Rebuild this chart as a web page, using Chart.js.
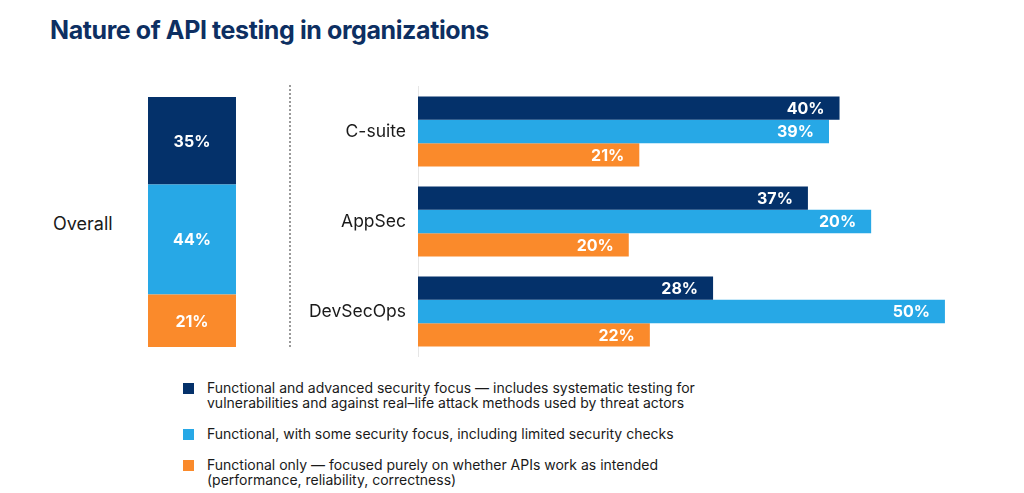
<!DOCTYPE html>
<html lang="en">
<head>
    <meta charset="UTF-8">
    <title>Nature of API testing in organizations</title>
    <script src="https://cdn.jsdelivr.net/npm/chart.js"></script>
    <style>
        body {
            margin: 0;
            width: 1024px;
            height: 493px;
            background: #fff;
            font-family: Inter, 'Noto Sans', sans-serif;
            color: #1a1a1a;
            position: relative;
            overflow: hidden;
        }
        h1 {
            position: absolute;
            left: 50px;
            top: 15px;
            margin: 0;
            font-size: 25px;
            font-weight: 700;
            color: #0d2f62;
            letter-spacing: -0.4px;
        }
        #overallBox { position: absolute; left: 114px; top: 97px; width: 156px; height: 250px; }
        #groupBox { position: absolute; left: 300px; top: 64px; width: 666px; height: 315px; }
        #overallLabel {
            position: absolute;
            left: 53px;
            top: 213px;
            font-size: 18px;
        }
        #divider {
            position: absolute;
            left: 289px;
            top: 85px;
            height: 262px;
            border-left: 2px dotted #9a9a9a;
        }
        #legend {
            position: absolute;
            left: 183px;
            top: 380px;
            font-size: 14px;
            line-height: 15px;
        }
        .item { display: flex; align-items: flex-start; margin-bottom: 16px; }
        .item span.box { width: 11px; height: 11px; margin: 3px 13px 0 0; flex: none; }
    </style>
</head>
<body>
    <h1>Nature of API testing in organizations</h1>
    <div id="overallLabel">Overall</div>
    <div id="overallBox"><canvas id="overallChart"></canvas></div>
    <div id="divider"></div>
    <div id="groupBox"><canvas id="groupChart"></canvas></div>
    <div id="legend"></div>

    <script>
        const seriesNames = [
            'Functional and advanced security focus \u2014 includes systematic testing for\nvulnerabilities and against real\u2013life attack methods used by threat actors',
            'Functional, with some security focus, including limited security checks',
            'Functional only \u2014 focused purely on whether APIs work as intended\n(performance, reliability, correctness)'
        ];
        const colors = ['#04316a', '#27a8e6', '#fa8a2b'];

        // overall split (advanced, some security, functional only)
        const overallValues = [35, 44, 21];

        const roles = ['C-suite', 'AppSec', 'DevSecOps'];
        const advancedValues = [40, 37, 28];
        const someSecurityValues = [39, 43, 50];
        const functionalValues = [21, 20, 22];
        // printed labels as they appear in the source (AppSec middle bar is labelled 20%)
        const advancedLabels = ['40%', '37%', '28%'];
        const someSecurityLabels = ['39%', '20%', '50%'];
        const functionalLabels = ['21%', '20%', '22%'];

        // legend
        const legend = document.getElementById('legend');
        seriesNames.forEach((name, i) => {
            const div = document.createElement('div');
            div.className = 'item';
            div.innerHTML = `<span class="box" style="background:${colors[i]}"></span><span>${name.replace('\n', '<br>')}</span>`;
            legend.appendChild(div);
        });

        // draws white value labels inside bars
        const barLabels = {
            id: 'barLabels',
            afterDatasetsDraw(chart) {
                const ctx = chart.ctx;
                const horizontal = chart.options.indexAxis === 'y';
                ctx.save();
                ctx.fillStyle = '#fff';
                ctx.font = 'bold 16px Inter, sans-serif';
                ctx.textBaseline = 'middle';
                chart.data.datasets.forEach((ds, di) => {
                    chart.getDatasetMeta(di).data.forEach((bar, i) => {
                        const text = ds.labels[i];
                        if (horizontal) {
                            ctx.textAlign = 'right';
                            ctx.fillText(text, bar.x - 15, bar.y + 1);
                        } else {
                            ctx.textAlign = 'center';
                            ctx.fillText(text, bar.x, (bar.y + bar.base) / 2 + 1);
                        }
                    });
                });
                ctx.restore();
            }
        };

        Chart.defaults.font.family = 'Inter, sans-serif';
        Chart.defaults.color = '#1a1a1a';

        // stacked overall bar: bottom dataset first
        const stackOrder = [2, 1, 0];
        new Chart(document.getElementById('overallChart'), {
            type: 'bar',
            data: {
                labels: ['Overall'],
                datasets: stackOrder.map(k => ({
                    data: [overallValues[k]],
                    labels: [overallValues[k] + '%'],
                    backgroundColor: colors[k],
                    borderWidth: 0,
                    categoryPercentage: 1,
                    barPercentage: 0.564
                }))
            },
            options: {
                responsive: true,
                maintainAspectRatio: false,
                animation: false,
                layout: { padding: 0 },
                plugins: { legend: { display: false }, tooltip: { enabled: false } },
                scales: {
                    x: {
                        stacked: true,
                        ticks: { display: false },
                        grid: { display: false, drawTicks: false },
                        border: { display: true, color: '#e3e3e3', width: 1 }
                    },
                    y: { stacked: true, display: false, min: 0, max: 100 }
                }
            },
            plugins: [barLabels]
        });

        new Chart(document.getElementById('groupChart'), {
            type: 'bar',
            data: {
                labels: roles,
                datasets: [
                    { data: advancedValues, labels: advancedLabels, backgroundColor: colors[0] },
                    { data: someSecurityValues, labels: someSecurityLabels, backgroundColor: colors[1] },
                    { data: functionalValues, labels: functionalLabels, backgroundColor: colors[2] }
                ].map(ds => Object.assign(ds, { borderWidth: 0, categoryPercentage: 0.78, barPercentage: 1 }))
            },
            options: {
                indexAxis: 'y',
                responsive: true,
                maintainAspectRatio: false,
                animation: false,
                layout: { padding: 0 },
                plugins: { legend: { display: false }, tooltip: { enabled: false } },
                scales: {
                    x: { display: false, min: 0, max: 52 },
                    y: {
                        grid: { display: false, drawTicks: false },
                        border: { display: true, color: '#e6e6e6', width: 1 },
                        ticks: { font: { size: 17.5 }, color: '#1a1a1a', padding: 12 },
                        afterFit(axis) { axis.width = 118; }
                    }
                }
            },
            plugins: [barLabels]
        });
    </script>
</body>
</html>
